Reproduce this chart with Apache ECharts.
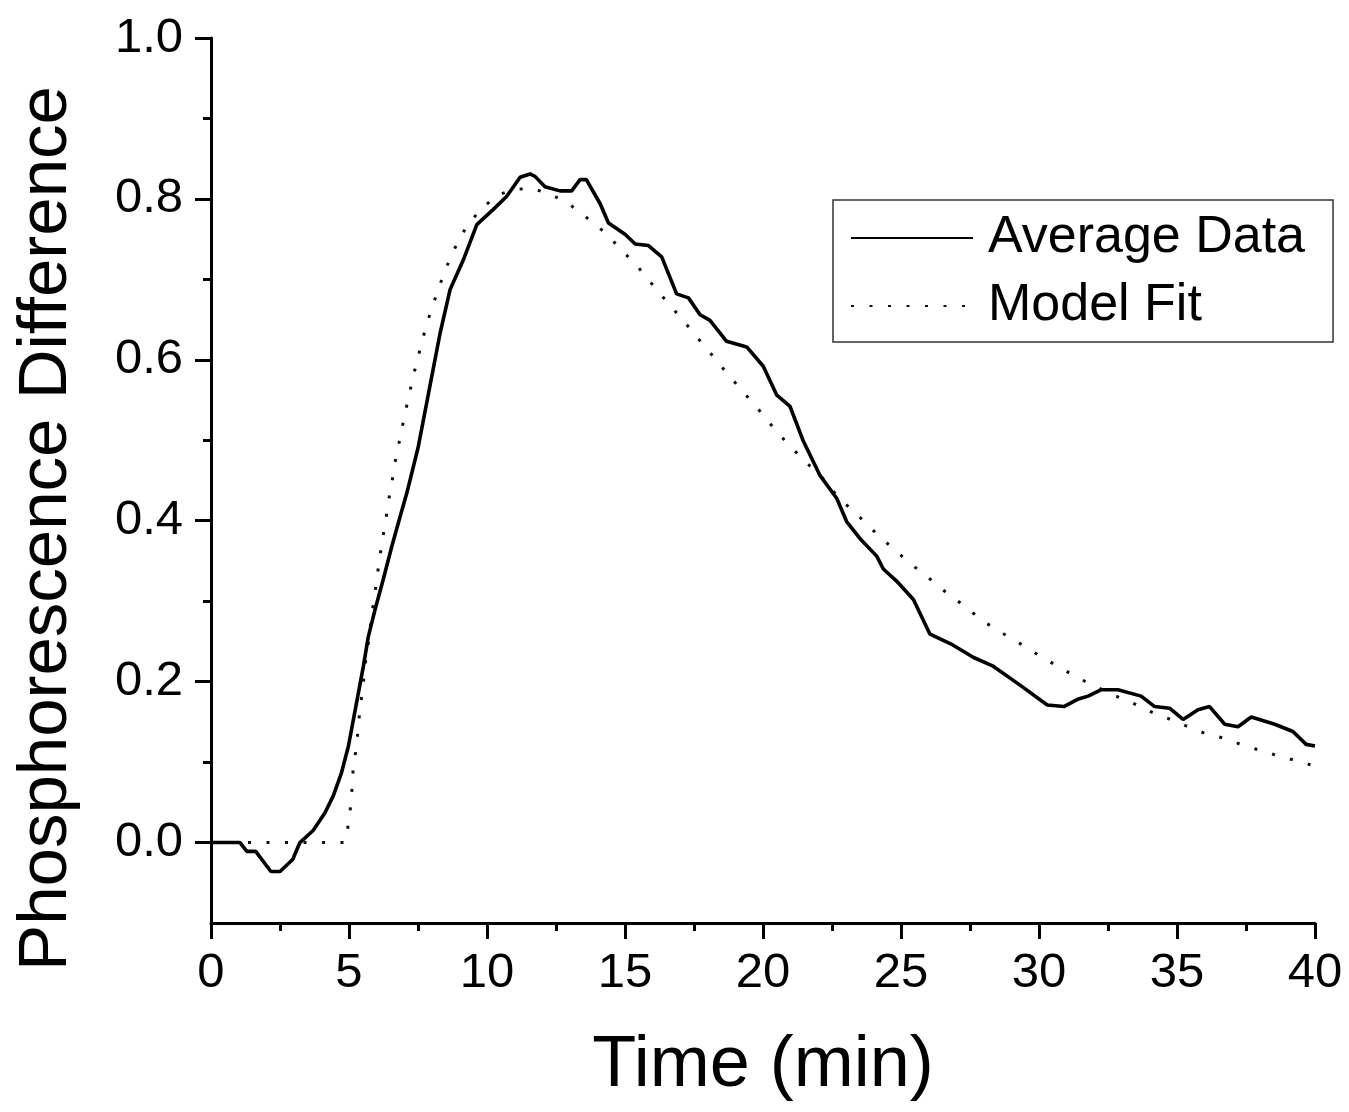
<!DOCTYPE html>
<html>
<head>
<meta charset="utf-8">
<script src="https://cdn.jsdelivr.net/npm/echarts@6/dist/echarts.min.js"></script>
<style>
html,body{margin:0;padding:0;background:#fff;}
#chart{width:1349px;height:1112px;}
</style>
</head>
<body>
<div id="chart"></div>
<script>
// Average Data
var avgTime = [0,1.05,1.3,1.62,2.17,2.5,2.96,3.22,3.7,4.13,4.43,4.73,4.98,5.16,5.34,5.52,5.7,5.94,6.24,6.55,6.85,7.1,7.51,7.93,8.3,8.66,9.14,9.63,10.23,10.71,11.2,11.56,11.74,12.1,12.64,13.07,13.37,13.6,14.1,14.4,15.0,15.37,15.85,16.33,16.87,17.3,17.72,18.08,18.68,19.41,20.01,20.5,20.98,21.46,22.07,22.67,23.03,23.51,24.12,24.36,24.84,25.45,26.05,26.8,27.63,28.3,29.3,30.3,30.9,31.4,31.78,32.26,32.86,33.7,34.19,34.73,35.22,35.76,36.18,36.73,37.21,37.69,38.54,39.2,39.68,40];
var avgValue = [0,0,-0.011,-0.011,-0.036,-0.036,-0.021,0.0,0.015,0.037,0.058,0.087,0.12,0.153,0.186,0.219,0.256,0.289,0.327,0.368,0.405,0.435,0.492,0.567,0.633,0.687,0.724,0.768,0.787,0.803,0.827,0.831,0.828,0.815,0.81,0.81,0.824,0.824,0.794,0.77,0.756,0.744,0.742,0.728,0.682,0.677,0.656,0.649,0.623,0.616,0.592,0.556,0.542,0.499,0.456,0.428,0.399,0.378,0.356,0.34,0.325,0.302,0.259,0.247,0.23,0.22,0.196,0.171,0.169,0.178,0.182,0.19,0.19,0.182,0.169,0.167,0.153,0.165,0.169,0.147,0.144,0.156,0.147,0.138,0.122,0.12];

// Model Fit
var fitTime = [0,4.85,4.95,5.04,5.1,5.13,5.22,5.3,5.36,5.43,5.52,5.58,5.68,5.76,5.84,5.94,6.03,6.12,6.22,6.33,6.42,6.55,6.64,6.78,6.91,7.04,7.19,7.33,7.5,7.67,7.85,8.07,8.29,8.54,8.84,9.2,9.69,10.33,10.99,11.64,12.29,12.96,13.6,14.28,14.92,15.48,16.03,16.57,17.11,17.66,18.2,18.75,19.31,19.89,20.44,21.0,21.58,22.16,22.73,23.37,24.02,24.66,25.33,26.0,26.63,27.3,27.98,28.74,29.43,30.07,30.74,31.39,32.06,32.72,33.36,34.02,34.69,35.33,35.99,36.66,37.31,37.97,38.64,39.29,40];
var fitValue = [0,0,0.017,0.039,0.062,0.084,0.107,0.13,0.153,0.174,0.198,0.22,0.242,0.265,0.287,0.31,0.333,0.356,0.378,0.4,0.423,0.446,0.468,0.491,0.513,0.535,0.558,0.58,0.603,0.626,0.648,0.671,0.693,0.716,0.739,0.762,0.784,0.804,0.812,0.813,0.806,0.794,0.777,0.758,0.735,0.715,0.692,0.67,0.649,0.626,0.604,0.581,0.559,0.536,0.513,0.492,0.472,0.453,0.429,0.409,0.387,0.367,0.347,0.329,0.311,0.294,0.275,0.259,0.245,0.231,0.218,0.205,0.194,0.183,0.174,0.163,0.154,0.145,0.136,0.13,0.122,0.115,0.108,0.102,0.095];

var yMajorTicks = [0, 0.2, 0.4, 0.6, 0.8, 1.0];
var yMinorTicks = [0.1, 0.3, 0.5, 0.7, 0.9];

function pairs(xs, ys){ return xs.map(function(x,i){ return [x, ys[i]]; }); }

var FONT = '"Liberation Sans", Arial, sans-serif';
var chart = echarts.init(document.getElementById('chart'), null, {renderer:'canvas'});
chart.setOption({
  backgroundColor: '#ffffff',
  animation: false,
  grid: {left: 211, right: 34, top: 38, bottom: 189, containLabel: false},
  legend: {
    orient: 'vertical',
    left: 833, top: 200,
    padding: [10, 28, 8, 17],
    itemWidth: 122, itemHeight: 14, itemGap: 12,
    borderColor: '#333', borderWidth: 1.5,
    itemStyle: {opacity: 0, borderWidth: 0},
    textStyle: {fontFamily: FONT, fontSize: 52, color: '#000', lineHeight: 56, padding: [0,0,0,10]},
    data: ['Average Data', 'Model Fit']
  },
  xAxis: {
    type: 'value', min: 0, max: 40, interval: 5,
    name: 'Time (min)', nameLocation: 'middle', nameGap: 107,
    nameTextStyle: {fontFamily: FONT, fontSize: 72, color: '#000'},
    axisLine: {show: true, onZero: false, lineStyle: {color: '#000', width: 3}},
    axisTick: {show: true, inside: false, length: 16, lineStyle: {color: '#000', width: 3}},
    minorTick: {show: true, splitNumber: 2, length: 8, lineStyle: {color: '#000', width: 3}},
    axisLabel: {fontFamily: FONT, fontSize: 49, color: '#000', margin: 26},
    splitLine: {show: false}
  },
  yAxis: [{
    type: 'value', min: -0.1, max: 1.0,
    name: 'Phosphorescence Difference', nameLocation: 'middle', nameGap: 130,
    nameTextStyle: {fontFamily: FONT, fontSize: 69, color: '#000', padding: [0, 96, 0, 0]},
    axisLine: {show: true, onZero: false, lineStyle: {color: '#000', width: 3}},
    axisTick: {show: true, inside: false, length: 16, customValues: yMajorTicks, lineStyle: {color: '#000', width: 3}},
    axisLabel: {fontFamily: FONT, fontSize: 49, color: '#000', margin: 28, customValues: yMajorTicks,
      formatter: function(v){ return v.toFixed(1); }},
    splitLine: {show: false}
  }, {
    type: 'value', min: -0.1, max: 1.0, position: 'left',
    axisLine: {show: false},
    axisTick: {show: true, inside: false, length: 8, customValues: yMinorTicks, lineStyle: {color: '#000', width: 3}},
    axisLabel: {show: false},
    splitLine: {show: false}
  }],
  series: [{
    name: 'Average Data', type: 'line', data: pairs(avgTime, avgValue),
    showSymbol: false, symbol: 'none', smooth: false,
    lineStyle: {color: '#000', width: 3.6},
    itemStyle: {color: '#000'}, z: 3
  }, {
    name: 'Model Fit', type: 'line', data: pairs(fitTime, fitValue),
    showSymbol: false, symbol: 'none', smooth: false,
    lineStyle: {color: '#111', width: 3, type: [3, 15.5]},
    itemStyle: {color: '#111'}, z: 2
  }]
});
</script>
</body>
</html>
